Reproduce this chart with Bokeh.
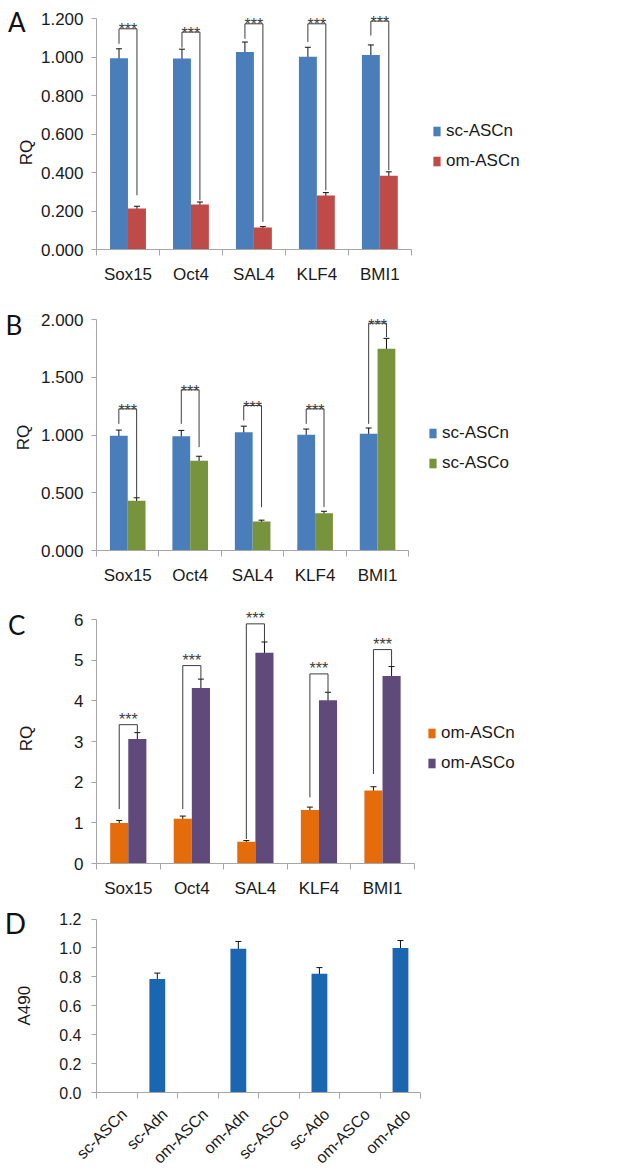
import math
from bokeh.plotting import figure
from bokeh.layouts import column
from bokeh.models import (ColumnDataSource, Range1d, FixedTicker, NumeralTickFormatter,
                          Whisker, TeeHead, Label, Legend, LegendItem)
from bokeh.core.properties import value
from bokeh.embed import file_html
from bokeh.resources import INLINE

# ---------------- data ----------------
genes = ["Sox15", "Oct4", "SAL4", "KLF4", "BMI1"]

# Panel A
a_names = ["sc-ASCn", "om-ASCn"]
a_sc_ascn = [0.995, 0.993, 1.027, 1.002, 1.012]
a_sc_ascn_err = [0.049, 0.049, 0.052, 0.050, 0.052]
a_om_ascn = [0.213, 0.234, 0.114, 0.281, 0.383]
a_om_ascn_err = [0.012, 0.013, 0.005, 0.015, 0.021]
a_yticks = [0.0, 0.2, 0.4, 0.6, 0.8, 1.0, 1.2]
a_br_top = [1.148, 1.131, 1.174, 1.174, 1.188]
a_br_left = [1.070, 1.050, 1.096, 1.079, 1.113]
a_br_right = [0.282, 0.256, 0.144, 0.308, 0.412]

# Panel B
b_names = ["sc-ASCn", "sc-ASCo"]
b_sc_ascn = [0.994, 0.991, 1.026, 1.003, 1.012]
b_sc_ascn_err = [0.050, 0.050, 0.052, 0.050, 0.050]
b_sc_asco = [0.431, 0.777, 0.251, 0.324, 1.749]
b_sc_asco_err = [0.026, 0.040, 0.012, 0.016, 0.090]
b_yticks = [0.0, 0.5, 1.0, 1.5, 2.0]
b_br_top = [1.228, 1.393, 1.257, 1.228, 1.971]
b_br_left = [1.098, 1.098, 1.127, 1.098, 1.098]
b_br_right = [0.462, 0.896, 0.376, 0.376, 1.850]

# Panel C
c_names = ["om-ASCn", "om-ASCo"]
c_om_ascn = [0.993, 1.100, 0.534, 1.313, 1.797]
c_om_ascn_err = [0.066, 0.066, 0.030, 0.074, 0.090]
c_om_asco = [3.062, 4.317, 5.180, 4.014, 4.613]
c_om_asco_err = [0.156, 0.217, 0.267, 0.197, 0.230]
c_yticks = [0, 1, 2, 3, 4, 5, 6]
c_br_top = [3.414, 4.867, 5.893, 4.662, 5.260]
c_br_left = [1.338, 1.338, 0.600, 1.625, 2.200]
c_br_right = [3.226, 4.539, 5.440, 4.210, 4.850]

# Panel D
d_samples = ["sc-ASCn", "sc-Adn", "om-ASCn", "om-Adn", "sc-ASCo", "sc-Ado", "om-ASCo", "om-Ado"]
d_a490 = [0.0, 0.785, 0.0, 0.995, 0.0, 0.821, 0.0, 0.999]
d_a490_err = [0.0, 0.041, 0.0, 0.050, 0.0, 0.043, 0.0, 0.052]
d_yticks = [0.0, 0.2, 0.4, 0.6, 0.8, 1.0, 1.2]

# ---------------- style ----------------
FONT = "Liberation Sans"
LETTER_FONT = "Lato"
AXIS_C = "#a6a6a6"
TXT_C = "#1a1a1a"
BR_C = "#3c3c3c"
W = 618
RIGHT = 90


class Geo:
    """layout geometry of one panel (figure pixels)"""
    def __init__(self, height, left, bottom, axis_px, ncat, ytop, ytop_px):
        self.height = height
        self.left = left
        self.bottom = bottom
        self.frame_w = W - left - RIGHT
        self.frame_h = height - bottom
        self.xpu = axis_px / ncat
        self.x_end = self.frame_w / self.xpu
        self.ypu = (self.frame_h - ytop_px) / ytop
        self.y_end = self.frame_h / self.ypu

    def dx(self, fx):
        return (fx - self.left) / self.xpu

    def dy(self, fy):
        return (self.frame_h - fy) / self.ypu


def make_fig(g, cats, yticks, yfmt, tick_font="17px", label_shift=0.0):
    p = figure(width=W, height=g.height, output_backend="svg", toolbar_location=None,
               x_range=Range1d(0, g.x_end), y_range=Range1d(0, g.y_end),
               min_border_left=g.left, min_border_right=RIGHT, min_border_top=0,
               min_border_bottom=g.bottom)
    p.outline_line_color = None
    p.grid.visible = False
    n = len(cats)
    xa = p.xaxis[0]
    centers = [i + 0.5 + label_shift for i in range(n)]
    xa.ticker = FixedTicker(ticks=centers, minor_ticks=list(range(n + 1)))
    xa.major_label_overrides = {c: name for c, name in zip(centers, cats)}
    xa.bounds = (0, n)
    xa.major_tick_out = 0
    xa.major_tick_in = 0
    xa.minor_tick_out = 6
    xa.minor_tick_in = 0
    xa.axis_line_color = AXIS_C
    xa.minor_tick_line_color = AXIS_C
    xa.major_label_text_font = FONT
    xa.major_label_text_font_size = tick_font
    xa.major_label_text_color = TXT_C
    xa.major_label_standoff = 9
    ya = p.yaxis[0]
    ya.ticker = FixedTicker(ticks=yticks, minor_ticks=[])
    ya.formatter = NumeralTickFormatter(format=yfmt)
    ya.bounds = (0, yticks[-1])
    ya.major_tick_out = 5
    ya.major_tick_in = 0
    ya.minor_tick_out = 0
    ya.minor_tick_in = 0
    ya.axis_line_color = AXIS_C
    ya.major_tick_line_color = AXIS_C
    ya.major_label_text_font = FONT
    ya.major_label_text_font_size = tick_font
    ya.major_label_text_color = TXT_C
    ya.major_label_standoff = 8
    return p


def add_labels(p, g, letter, letter_pos, ylab, ylab_pos, letter_size="26px"):
    # placed in a side panel so that they are not clipped to the frame
    p.add_layout(Label(x=g.dx(letter_pos[0]), y=g.dy(letter_pos[1]), text=letter,
                       text_font=LETTER_FONT, text_font_size=letter_size, text_color="#111111",
                       text_align="left", text_baseline="alphabetic"), "right")
    p.add_layout(Label(x=g.dx(ylab_pos[0]), y=g.dy(ylab_pos[1]), text=ylab, angle=math.pi / 2,
                       text_font=FONT, text_font_size="17px", text_color=TXT_C,
                       text_align="center", text_baseline="middle"), "right")


def grouped_panel(g, letter, letter_pos, ylab_pos, names, vals1, err1, vals2, err2, colors,
                  yticks, yfmt, br_top, br_left, br_right, star_off, legend_pos):
    p = make_fig(g, genes, yticks, yfmt)
    w = 0.285
    rends = []
    for k, (vals, errs) in enumerate([(vals1, err1), (vals2, err2)]):
        xs = [i + 0.5 + (k - 0.5) * w for i in range(len(genes))]
        src = ColumnDataSource(dict(x=xs, top=vals,
                                    upper=[v + e for v, e in zip(vals, errs)],
                                    lower=[v - e for v, e in zip(vals, errs)]))
        r = p.vbar(x="x", top="top", width=w, bottom=0, source=src,
                   fill_color=colors[k], line_color=None)
        rends.append(r)
        p.add_layout(Whisker(source=src, base="x", upper="upper", lower="lower",
                             line_color="#111111", line_width=1,
                             upper_head=TeeHead(size=6, line_color="#111111", line_width=1),
                             lower_head=TeeHead(size=6, line_color="#111111", line_width=1)))
    xl = [i + 0.5 - w / 2 for i in range(len(genes))]
    xr = [i + 0.5 + w / 2 for i in range(len(genes))]
    p.multi_line(xs=[[a, a, b, b] for a, b in zip(xl, xr)],
                 ys=[[lb, t, t, rb] for lb, t, rb in zip(br_left, br_top, br_right)],
                 line_color=BR_C, line_width=1)
    p.text(x=[(a + b) / 2 for a, b in zip(xl, xr)], y=br_top, text=["***"] * len(genes),
           text_font=value(FONT), text_font_size="16px", text_color=BR_C,
           text_align="center", text_baseline="alphabetic", y_offset=star_off)
    leg = Legend(items=[LegendItem(label=names[k], renderers=[rends[k]]) for k in range(2)],
                 location=legend_pos, border_line_color=None, background_fill_alpha=0,
                 padding=0, margin=0, spacing=10, label_height=20, glyph_width=9,
                 glyph_height=12, label_standoff=5, label_text_font=FONT,
                 label_text_font_size="17px", label_text_color=TXT_C)
    p.add_layout(leg)
    add_labels(p, g, letter, letter_pos, "RQ", ylab_pos)
    return p


# Panel A
gA = Geo(height=292, left=93, bottom=43, axis_px=317, ncat=5, ytop=1.2, ytop_px=18.3)
pA = grouped_panel(gA, "A", (4, 21.7), (23, 152), a_names, a_sc_ascn, a_sc_ascn_err,
                   a_om_ascn, a_om_ascn_err, ["#4a7ebb", "#be4b48"], a_yticks, "0.000",
                   a_br_top, a_br_left, a_br_right, 1, (336, 78))

# Panel B
gB = Geo(height=295, left=96, bottom=37, axis_px=312.3, ncat=5, ytop=2.0, ytop_px=27.3)
pB = grouped_panel(gB, "B", (5, 32.3), (23, 145), b_names, b_sc_ascn, b_sc_ascn_err,
                   b_sc_asco, b_sc_asco_err, ["#4a7ebb", "#77933c"], b_yticks, "0.000",
                   b_br_top, b_br_left, b_br_right, 2, (332, 77))

# Panel C
gC = Geo(height=315, left=93, bottom=39, axis_px=320, ncat=5, ytop=6, ytop_px=32)
pC = grouped_panel(gC, "C", (4, 37.3), (23, 151), c_names, c_om_ascn, c_om_ascn_err,
                   c_om_asco, c_om_asco_err, ["#e46c0a", "#5f4a7b"], c_yticks, "0",
                   c_br_top, c_br_left, c_br_right, -5, (331, 90))

# Panel D
gD = Geo(height=273, left=95, bottom=74, axis_px=325, ncat=8, ytop=1.2, ytop_px=17.3)
pD = make_fig(gD, d_samples, d_yticks, "0.0", tick_font="16px", label_shift=0.18)
pD.xaxis[0].major_label_orientation = math.pi / 4
pD.xaxis[0].major_label_text_font_size = "16px"
pD.xaxis[0].major_label_standoff = 13
pD.yaxis[0].major_label_standoff = 10
d_src = ColumnDataSource(dict(x=[i + 0.5 for i in range(len(d_samples))], top=d_a490))
pD.vbar(x="x", top="top", width=0.39, bottom=0, source=d_src, fill_color="#1a66b0",
        line_color=None)
pD.add_layout(Whisker(source=ColumnDataSource(dict(
    x=[i + 0.5 for i, e in enumerate(d_a490_err) if e > 0],
    upper=[v + e for v, e in zip(d_a490, d_a490_err) if e > 0],
    lower=[v - e for v, e in zip(d_a490, d_a490_err) if e > 0])),
    base="x", upper="upper", lower="lower", line_color="#111111", line_width=1,
    upper_head=TeeHead(size=6, line_color="#111111", line_width=1),
    lower_head=TeeHead(size=6, line_color="#111111", line_width=1)))
add_labels(pD, gD, "D", (3, 21.7), "A490", (23, 108), letter_size="28px")

layout = column(pA, pB, pC, pD, spacing=0)
open("out.html", "w").write(file_html(layout, INLINE))
